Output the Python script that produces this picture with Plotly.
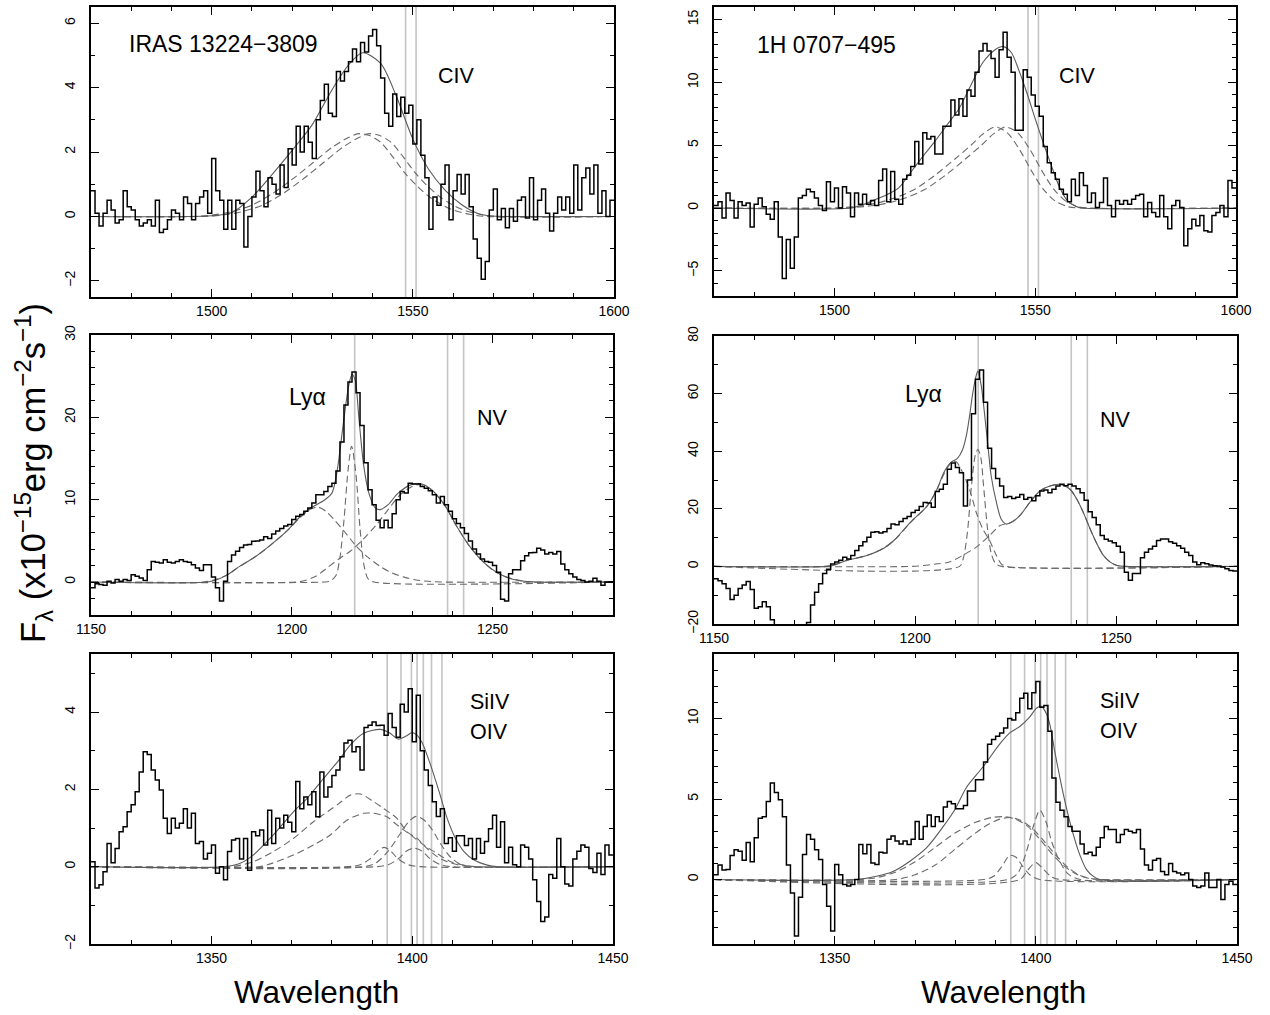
import plotly.graph_objects as go

# ---------------- spectra (1 A bins, first bin edge given) ----------------
TL_START = 1470
TL_FLUX = [0.8, 0.1, -0.3, 0.1, 0.5, 0.2, -0.2, -0.1, 0.8, 0.3,
           0.2, -0.1, -0.3, -0.2, -0.1, -0.3, 0.5, -0.5, -0.4, -0.1,
           0.2, 0.1, -0.1, 0.6, 0.4, -0.1, 0.4, 0.6, 0.8, 0.1,
           1.8, 0.8, 0.5, -0.4, 0.5, -0.4, 0.5, 0.4, -0.95, 0.0,
           0.6, 1.4, 0.8, 0.3, 1.2, 1.0, 0.7, 1.6, 0.9, 2.1,
           1.6, 2.8, 2.0, 2.8, 2.3, 1.8, 3.0, 3.6, 4.1, 3.2,
           3.1, 4.5, 4.2, 4.5, 4.8, 5.2, 4.8, 5.4, 5.1, 5.6,
           5.8, 5.3, 4.3, 3.2, 2.8, 3.8, 3.1, 3.7, 3.2, 3.45,
           2.25, 3.0, 1.9, 1.2, -0.4, 0.6, 0.35, 1.0, 1.6, -0.1,
           0.8, 1.3, 0.7, 1.3, 0.3, -0.7, -1.3, -1.95, -1.4, 0.2,
           0.85, -0.1, 0.25, -0.35, 0.25, -0.15, 0.5, 0.6, -0.05, 1.2,
           -0.1, 0.5, 0.85, 0.1, -0.45, 0.1, 0.6, 0.2, 0.6, 0.1,
           1.6, 0.2, 1.2, 1.5, 0.7, 1.6, 0.1, 0.8, 0.0, 0.5]

TR_START = 1470
TR_FLUX = [0.2, 0.5, -0.8, 1.2, 0.6, -0.8, 0.5, 0.2, 0.4, -1.5,
           0.3, 0.8, 0.1, -0.5, -0.9, 0.5, -2.3, -5.6, -2.5, -4.8,
           -2.3, 0.8, 1.0, 1.5, 1.3, 0.8, 0.2, -0.2, 2.1, 0.5,
           1.6, 0.0, 1.7, 1.2, -0.7, 1.2, 0.3, 1.1, 0.3, 0.6,
           0.2, 2.2, 3.1, 0.5, 2.9, 0.7, 0.3, 2.3, 2.6, 3.3,
           5.3, 3.5, 6.0, 5.5, 5.7, 4.3, 4.3, 6.5, 6.5, 8.6,
           7.4, 8.7, 7.3, 9.4, 8.9, 10.8, 12.5, 13.1, 12.5, 11.9,
           10.4, 12.6, 14.0, 12.0, 10.8, 6.2, 6.2, 11.0, 10.4, 9.0,
           8.1, 7.3, 4.9, 3.6, 2.8, 2.3, 1.5, 1.1, 0.5, 2.3,
           1.0, 2.8, 1.8, 0.45, 1.2, 0.05, 0.45, 2.4, 0.2, -0.7,
           0.6, 0.3, 0.6, 0.3, 0.7, 1.0, 1.1, -0.7, 0.45, -0.35,
           -0.7, 1.0, -0.7, -1.65, 0.2, 0.6, 0.05, -3.0, -1.65, -0.9,
           -1.4, -0.6, -1.8, -1.9, -0.6, -0.35, 0.2, -0.7, 2.2, 1.6]

ML_START = 1150
ML_FLUX = [-0.7, -0.2, -0.3, -0.4, 0.1, -0.1, 0.3, 0.1, 0.3, 0.2,
           0.9, 0.7, 0.5, 0.2, 1.5, 2.5, 2.4, 2.3, 2.7, 2.4,
           2.3, 2.5, 2.7, 2.5, 2.4, 2.1, 1.7, 1.4, 2.1, 2.1,
           0.6, -0.7, -2.3, 0.1, 2.5, 3.3, 3.75, 4.2, 4.5, 4.55,
           4.95, 5.0, 5.1, 5.5, 5.3, 5.85, 6.2, 6.5, 6.8, 7.0,
           7.6, 8.0, 8.2, 8.6, 9.0, 9.6, 10.6, 10.6, 11.0, 11.6,
           12.0, 13.5, 17.0, 21.5, 24.3, 25.5, 23.0, 19.0, 14.5, 11.2,
           9.4, 7.5, 6.6, 7.5, 6.6, 8.3, 10.0, 11.0, 10.8, 12.0,
           11.9, 11.9, 11.6, 11.4, 11.1, 10.6, 9.6, 10.4, 9.4, 8.6,
           7.7, 7.1, 6.6, 5.9, 5.0, 4.0, 3.4, 2.8, 2.5, 2.4,
           2.0, 1.2, -2.1, -2.3, 1.0, 1.5, 1.5, 2.6, 3.2, 3.55,
           3.6, 4.1, 3.9, 3.4, 3.6, 3.4, 3.7, 2.2, 1.5, 1.0,
           0.6, 0.3, 0.2, 0.0, 0.1, 0.45, 0.1, -0.4, 0.0, 0.05]

MR_START = 1150
MR_FLUX = [-4.3, -5.0, -6.0, -7.7, -11.5, -10.0, -7.7, -6.5, -5.2, -8.0,
           -14.5, -14.0, -12.3, -14.0, -18.5, -25, -32, -38, -40, -38,
           -34, -29, -25, -19.5, -13.4, -9.0, -6.0, -2.5, -1.0, 0.8,
           1.5, 2.1, 3.2, 2.6, 3.8, 5.5, 7.2, 8.6, 10.1, 11.9,
           12.0, 11.6, 12.0, 13.2, 14.7, 14.5, 15.6, 16.6, 17.3, 18.7,
           19.5, 20.8, 22.2, 22.0, 20.5, 26.0, 26.8, 28.5, 33.7, 35.9,
           34.3, 32.5, 21.0, 30.0, 53.0, 65.0, 68.2, 57.0, 41.0, 34.0,
           30.5, 27.9, 23.9, 24.3, 23.6, 24.0, 25.0, 23.3, 23.9, 22.8,
           24.5, 26.2, 26.5, 25.6, 26.8, 27.9, 28.5, 28.0, 28.5, 27.9,
           27.0, 25.6, 23.0, 19.0, 17.0, 14.5, 10.7, 9.4, 8.8, 8.2,
           7.0, 4.9, -2.0, -4.8, -2.5, -2.5, 3.0, 4.9, 6.0, 7.0,
           9.0, 9.5, 9.5, 8.6, 8.0, 7.2, 6.3, 4.9, 3.8, 1.5,
           0.6, 1.3, 0.9, 0.5, 0.2, 0.1, -0.2, -0.8, -1.4, -1.6]

BL_START = 1320
BL_FLUX = [0.13, -0.55, -0.47, -0.13, 0.6, 0.1, 0.47, 0.9, 1.03, 1.42,
           1.6, 1.94, 2.45, 2.97, 2.9, 2.5, 2.24, 1.98, 1.25, 0.86,
           1.25, 1.0, 1.12, 1.5, 1.0, 1.38, 0.6, 0.65, 0.2, 0.35,
           0.56, -0.17, 0.0, -0.34, 0.39, 0.69, 0.73, 0.2, 0.73, -0.09,
           0.9, 0.8, 0.95, 0.56, 1.46, 0.6, 1.25, 1.0, 1.33, 1.15,
           0.9, 2.2, 1.5, 1.8, 1.6, 1.94, 1.29, 2.45, 1.8, 2.06,
           2.36, 2.5, 2.84, 3.2, 3.27, 2.97, 3.1, 2.5, 3.6, 3.66,
           3.74, 3.65, 3.66, 3.4, 3.96, 3.6, 3.35, 4.2, 4.0, 4.6,
           3.23, 4.43, 3.0, 2.5, 2.1, 1.68, 1.3, 1.5, 0.6, 0.75,
           0.4, 0.8, 0.8, 0.55, 0.73, 0.2, 0.73, 0.35, 0.65, 0.98,
           1.33, 0.5, 1.16, 0.1, 0.5, 0.05, 0.0, 0.56, 0.5, 0.2,
           -0.34, -0.9, -1.42, -1.3, -0.2, -0.3, 0.73, 0.0, -0.45, -0.5,
           0.2, 0.4, 0.56, 0.5, -0.05, -0.15, 0.35, -0.2, 0.56, 0.3]

BR_START = 1320
BR_FLUX = [0.3, 0.9, 0.6, 0.62, 1.5, 1.85, 1.75, 1.2, 2.3, 1.1,
           2.6, 3.8, 3.9, 4.85, 6.0, 5.4, 4.95, 3.9, 0.9, -0.83,
           -3.5, -1.1, 1.55, 2.8, 2.5, 1.85, 1.24, -0.3, -1.65, -3.2,
           0.93, 0.3, -0.3, -0.4, -0.3, 0.0, 2.17, 1.6, 2.17, 1.03,
           0.93, 1.7, 1.65, 2.5, 2.7, 2.4, 2.2, 2.4, 2.17, 2.5,
           3.6, 2.5, 3.3, 4.0, 3.3, 3.9, 3.6, 4.5, 4.85, 4.7,
           4.4, 4.4, 4.6, 5.5, 5.5, 6.2, 6.2, 7.3, 8.4, 8.7,
           8.9, 9.1, 9.4, 10.0, 9.9, 10.35, 11.26, 11.57, 10.6, 11.6,
           12.3, 10.7, 10.8, 9.2, 6.3, 4.8, 4.3, 3.9, 3.3, 3.0,
           3.0, 2.2, 1.6, 1.7, 1.5, 2.0, 2.6, 3.3, 3.1, 3.1,
           2.3, 2.8, 3.1, 3.0, 2.9, 3.1, 1.9, 0.9, 0.6, 1.2,
           1.3, 0.5, 0.3, 1.0, 0.5, 0.4, 0.3, 0.4, 0.0, -0.4,
           -0.5, -0.4, 0.4, -0.5, -0.5, 0.0, -1.24, -0.3, -0.1, -0.3]

# ---------------- model fits (total) and components ----------------
TL_FIT_X = [1470, 1500, 1505, 1510, 1515, 1520, 1525, 1530, 1534, 1537.5, 1542, 1546, 1550, 1554, 1558, 1562, 1566, 1569, 1572, 1600]
TL_FIT_Y = [0, 0.02, 0.12, 0.6, 1.3, 2.05, 2.85, 3.95, 4.7, 5.08, 4.75, 3.7, 2.4, 1.45, 0.82, 0.38, 0.1, 0.02, 0, 0]
TL_C1_X = [1470, 1495, 1500, 1505, 1510, 1515, 1520, 1525, 1530, 1534, 1536.5, 1539, 1542, 1545, 1548, 1551, 1554, 1557, 1560, 1564, 1568, 1600]
TL_C1_Y = [0, 0, 0.04, 0.15, 0.35, 0.7, 1.15, 1.65, 2.15, 2.45, 2.57, 2.52, 2.3, 1.85, 1.35, 0.95, 0.62, 0.38, 0.2, 0.07, 0, 0]
TL_C2_X = [1470, 1497.6, 1502.6, 1507.6, 1512.6, 1517.6, 1522.6, 1527.6, 1532.6, 1536.6, 1539.1, 1541.6, 1544.6, 1547.6, 1550.6, 1553.6, 1556.6, 1559.6, 1562.6, 1566.6, 1570.6, 1600]
TL_C2_Y = [0, 0, 0.04, 0.15, 0.35, 0.7, 1.15, 1.65, 2.15, 2.45, 2.57, 2.52, 2.3, 1.85, 1.35, 0.95, 0.62, 0.38, 0.2, 0.07, 0, 0]

TR_FIT_X = [1470, 1504, 1507, 1510, 1513, 1516, 1519, 1522, 1525, 1528, 1531, 1534, 1537, 1540, 1542, 1544, 1546, 1548, 1550, 1552, 1554, 1556, 1558, 1560, 1562, 1600]
TR_FIT_Y = [0, 0, 0.25, 0.65, 1.05, 1.6, 2.85, 4.1, 5.3, 6.6, 7.9, 9.8, 11.6, 12.6, 12.85, 12.4, 10.9, 9.1, 7.1, 5.2, 3.4, 1.7, 0.6, 0.15, 0, 0]
TR_C1_X = [1470, 1500, 1505, 1510, 1515, 1520, 1525, 1530, 1534, 1537, 1540, 1543, 1546, 1549, 1552, 1555, 1558, 1561, 1600]
TR_C1_Y = [0, 0, 0.12, 0.35, 0.8, 1.5, 2.6, 3.9, 5.0, 5.9, 6.45, 6.0, 4.7, 3.0, 1.5, 0.55, 0.12, 0, 0]
TR_C2_X = [1470, 1502.6, 1507.6, 1512.6, 1517.6, 1522.6, 1527.6, 1532.6, 1536.6, 1539.6, 1542.6, 1545.6, 1548.6, 1551.6, 1554.6, 1557.6, 1560.6, 1563.6, 1600]
TR_C2_Y = [0, 0, 0.12, 0.35, 0.8, 1.5, 2.6, 3.9, 5.0, 5.9, 6.45, 6.0, 4.7, 3.0, 1.5, 0.55, 0.12, 0, 0]

ML_FIT_X = [1150, 1179, 1181.5, 1184, 1187, 1191, 1195, 1199, 1202, 1205, 1208, 1210, 1211.3, 1212.9, 1214.2, 1215, 1215.8, 1216.7, 1217.9, 1219.2, 1220.8, 1222, 1224, 1226.3, 1229.6, 1232, 1234.6, 1238, 1241.3, 1244.6, 1248, 1251.3, 1254.6, 1258, 1261, 1280]
ML_FIT_Y = [0, 0, 0.3, 0.9, 1.9, 3.1, 4.6, 6.3, 7.9, 9.1, 9.9, 10.8, 13.5, 19.5, 23.9, 25.2, 24.5, 20.0, 14.2, 10.8, 9.0, 8.8, 9.4, 10.7, 11.8, 11.95, 11.3, 9.4, 6.6, 4.15, 2.3, 1.1, 0.4, 0.1, 0, 0]
ML_C1_X = [1150, 1178, 1181, 1184, 1187, 1191, 1195, 1199, 1202, 1204.5, 1206.5, 1208.5, 1210.5, 1213, 1216, 1219, 1222, 1225, 1228, 1231, 1235, 1238, 1280]
ML_C1_Y = [0, 0, 0.3, 0.9, 1.9, 3.1, 4.6, 6.3, 7.8, 8.8, 9.1, 8.6, 7.6, 6.2, 4.4, 3.0, 1.9, 1.1, 0.6, 0.25, 0.05, 0, 0]
ML_C2_X = [1150, 1208, 1209.5, 1211, 1212, 1213, 1214, 1214.9, 1216, 1217, 1218, 1219, 1220.5, 1280]
ML_C2_Y = [0, 0, 0.1, 0.8, 3.0, 7.5, 13.5, 16.5, 13.0, 6.5, 2.0, 0.4, 0, 0]
ML_C3_X = [1150, 1201, 1203, 1206, 1209, 1212, 1215, 1218, 1221, 1224, 1227, 1230, 1232, 1234.5, 1238, 1241, 1244.5, 1248, 1251, 1254.5, 1258, 1261, 1280]
ML_C3_Y = [0, 0, 0.15, 0.7, 1.8, 2.9, 3.9, 5.3, 6.9, 8.8, 10.6, 11.6, 11.85, 11.3, 9.4, 6.8, 4.2, 2.3, 1.15, 0.45, 0.1, 0, 0]

MR_FIT_X = [1150, 1178, 1180, 1183, 1188, 1192.2, 1194.7, 1198.8, 1203, 1205.5, 1207.1, 1208.8, 1210.5, 1211.8, 1212.7, 1213.5, 1214.3, 1215.2, 1215.6, 1216.4, 1217.25, 1218.1, 1218.9, 1220.2, 1221.4, 1222.7, 1223.9, 1226, 1228.5, 1231, 1233.5, 1236, 1238.5, 1240.2, 1241.8, 1243.5, 1245.2, 1246.8, 1248.5, 1250.2, 1252, 1280]
MR_FIT_Y = [0, 0, 0.5, 2.1, 3.8, 6.3, 9.0, 15.3, 21.0, 27.0, 32.5, 36.0, 37.5, 40.6, 45.2, 52.0, 60.0, 66.4, 67.8, 63.0, 53.0, 41.7, 31.4, 22.2, 16.4, 14.7, 15.3, 17.6, 22.2, 26.2, 27.9, 28.5, 26.8, 23.3, 18.7, 13.0, 7.8, 3.8, 1.5, 0.3, 0, 0]
MR_C1_X = [1150, 1177, 1179, 1183, 1188, 1192, 1195, 1199, 1203, 1205.5, 1207.5, 1209, 1210.2, 1211.5, 1213.5, 1215.2, 1216.8, 1218.5, 1220.2, 1221.4, 1222.7, 1280]
MR_C1_Y = [0, 0, 0.3, 2.1, 3.8, 6.2, 9.3, 15.5, 21.0, 27.0, 33.0, 36.0, 36.3, 33.5, 26.8, 18.7, 13.0, 9.0, 3.8, 0.9, 0, 0]
MR_C2_X = [1150, 1211, 1212, 1213, 1214, 1215, 1215.6, 1216.3, 1217, 1218, 1219, 1220, 1221.5, 1280]
MR_C2_Y = [0, 0, 3.0, 12.0, 28.0, 39.0, 40.6, 38.0, 28.0, 13.0, 4.0, 1.0, 0, 0]
MR_C3_X = [1150, 1199, 1202, 1205.5, 1208.5, 1211.8, 1215.2, 1218.5, 1221, 1223.9, 1226, 1228.5, 1231, 1233.5, 1236, 1238.5, 1240.2, 1241.8, 1243.5, 1245.2, 1246.8, 1248.5, 1250.2, 1252, 1280]
MR_C3_Y = [0, 0, 0.3, 0.9, 1.5, 3.8, 6.7, 10.7, 14.1, 15.3, 17.6, 22.2, 26.2, 27.9, 28.5, 26.8, 23.3, 18.7, 13.0, 7.8, 3.8, 1.5, 0.3, 0, 0]

BL_FIT_X = [1320, 1353.5, 1357, 1360.4, 1365.4, 1370.4, 1373.75, 1377.9, 1381.7, 1384.6, 1387.9, 1392, 1394.5, 1396.5, 1398.5, 1400, 1401.2, 1402.5, 1404.6, 1406.7, 1408.7, 1410.8, 1412.9, 1415.4, 1418.7, 1421, 1450]
BL_FIT_Y = [0, 0, 0.08, 0.3, 0.82, 1.42, 1.76, 2.28, 2.75, 3.15, 3.45, 3.55, 3.45, 3.3, 3.38, 3.47, 3.4, 3.2, 2.62, 1.94, 1.25, 0.73, 0.39, 0.17, 0.04, 0, 0]
BL_C1_X = [1320, 1355, 1360.4, 1365.4, 1370.4, 1375.4, 1381.7, 1384.6, 1387.1, 1390.4, 1392.9, 1396.2, 1398.7, 1401.2, 1403.7, 1406.2, 1408.7, 1412.1, 1415, 1450]
BL_C1_Y = [0, 0, 0.13, 0.39, 0.73, 1.16, 1.63, 1.85, 1.88, 1.68, 1.5, 1.25, 0.9, 0.73, 0.47, 0.26, 0.13, 0.03, 0, 0]
BL_C2_X = [1320, 1362, 1363.75, 1370.4, 1375.4, 1379.6, 1383.7, 1387.9, 1390.4, 1393.7, 1396.2, 1399.6, 1402.9, 1406.2, 1409.6, 1412.9, 1416, 1450]
BL_C2_Y = [0, 0, 0.04, 0.3, 0.56, 0.82, 1.2, 1.38, 1.38, 1.29, 1.08, 0.82, 0.56, 0.34, 0.13, 0.04, 0, 0]
BL_C3_X = [1320, 1388, 1391, 1394, 1397, 1399, 1401, 1403, 1405, 1407, 1409.5, 1412, 1415, 1450]
BL_C3_Y = [0, 0, 0.1, 0.4, 0.85, 1.15, 1.3, 1.2, 0.95, 0.6, 0.25, 0.06, 0, 0]
BL_C4_X = [1320, 1384, 1387, 1389.5, 1391.5, 1393, 1394.5, 1396.5, 1399, 1402, 1450]
BL_C4_Y = [0, 0, 0.05, 0.2, 0.42, 0.5, 0.42, 0.2, 0.05, 0, 0]
BL_C5_X = [1320, 1391, 1394, 1396.5, 1398.5, 1400.5, 1402.5, 1404.5, 1407, 1410, 1450]
BL_C5_Y = [0, 0, 0.05, 0.2, 0.4, 0.48, 0.4, 0.2, 0.05, 0, 0]

BR_FIT_X = [1320, 1355.4, 1360.4, 1364.5, 1368.7, 1372.8, 1377, 1380, 1382.7, 1386.9, 1391, 1393.5, 1396, 1398.5, 1400.2, 1401.4, 1402.6, 1403.5, 1404.7, 1406, 1407.6, 1409.3, 1410.9, 1412.6, 1414.3, 1415.9, 1450]
BR_FIT_Y = [0, 0, 0.2, 0.5, 1.14, 1.96, 3.3, 4.4, 5.7, 7.0, 8.4, 9.1, 9.5, 10.1, 10.65, 10.75, 10.3, 9.6, 7.95, 6.3, 4.45, 2.8, 1.55, 0.62, 0.2, 0, 0]
BR_C1_X = [1320, 1355, 1360, 1365, 1370, 1375, 1380, 1385, 1389, 1392, 1395, 1398, 1401, 1404, 1407, 1410, 1413, 1416, 1450]
BR_C1_Y = [0, 0, 0.1, 0.45, 1.1, 2.0, 2.9, 3.55, 3.85, 3.9, 3.75, 3.3, 2.5, 1.6, 0.85, 0.35, 0.08, 0, 0]
BR_C2_X = [1320, 1365, 1370, 1375, 1380, 1384, 1388, 1391, 1393.5, 1396, 1399, 1402, 1405, 1408, 1411, 1414, 1417, 1450]
BR_C2_Y = [0, 0, 0.3, 0.9, 1.9, 2.7, 3.4, 3.75, 3.85, 3.7, 3.2, 2.4, 1.5, 0.75, 0.25, 0.05, 0, 0]
BR_C3_X = [1320, 1387, 1389.5, 1391.5, 1393.5, 1395, 1396.5, 1398.5, 1401, 1450]
BR_C3_Y = [0, 0, 0.2, 0.8, 1.5, 1.4, 0.9, 0.3, 0, 0]
BR_C4_X = [1320, 1393, 1395.5, 1397.5, 1399.5, 1401, 1402.5, 1404, 1406, 1408, 1411, 1450]
BR_C4_Y = [0, 0, 0.4, 1.6, 3.4, 4.3, 3.6, 2.3, 1.1, 0.35, 0, 0]
BR_C5_X = [1320, 1396, 1398, 1400, 1402, 1404, 1406, 1450]
BR_C5_Y = [0, 0, 0.6, 1.05, 0.6, 0.15, 0, 0]

# rest wavelengths of the marked transitions
CIV_LINES = [1548.2, 1550.8]
LYA_NV_LINES = [1215.67, 1238.8, 1242.8]
SIIV_OIV_LINES = [1393.76, 1397.2, 1399.8, 1401.2, 1402.77, 1404.8, 1407.4]

# ---------------- layout geometry (pixels) ----------------
W, H = 1270, 1015
FONT = "Liberation Sans, Arial, Helvetica, sans-serif"


def px_x(x):
    return min(max(x / W, 0.0), 1.0)


def px_y(y):
    return min(max(1 - y / H, 0.0), 1.0)


panels = [
    dict(box=(91, 614, 7, 297), xr=(1470, 1600), yr=(-2.5, 6.5), ydt=2, ymn=1,
         start=TL_START, flux=TL_FLUX, fit=(TL_FIT_X, TL_FIT_Y),
         comps=[(TL_C1_X, TL_C1_Y), (TL_C2_X, TL_C2_Y)], lines=CIV_LINES),
    dict(box=(714, 1236, 7, 296), xr=(1470, 1600), yr=(-7, 16), ydt=5, ymn=1,
         start=TR_START, flux=TR_FLUX, fit=(TR_FIT_X, TR_FIT_Y),
         comps=[(TR_C1_X, TR_C1_Y), (TR_C2_X, TR_C2_Y)], lines=CIV_LINES),
    dict(box=(91, 613, 335, 615), xr=(1150, 1280), yr=(-4, 30), ydt=10, ymn=2,
         start=ML_START, flux=ML_FLUX, fit=(ML_FIT_X, ML_FIT_Y),
         comps=[(ML_C1_X, ML_C1_Y), (ML_C2_X, ML_C2_Y), (ML_C3_X, ML_C3_Y)], lines=LYA_NV_LINES),
    dict(box=(714, 1237, 336, 624), xr=(1150, 1280), yr=(-20, 80), ydt=20, ymn=10,
         start=MR_START, flux=MR_FLUX, fit=(MR_FIT_X, MR_FIT_Y),
         comps=[(MR_C1_X, MR_C1_Y), (MR_C2_X, MR_C2_Y), (MR_C3_X, MR_C3_Y)], lines=LYA_NV_LINES),
    dict(box=(91, 613, 654, 944), xr=(1320, 1450), yr=(-2, 5.5), ydt=2, ymn=1,
         start=BL_START, flux=BL_FLUX, fit=(BL_FIT_X, BL_FIT_Y),
         comps=[(BL_C1_X, BL_C1_Y), (BL_C2_X, BL_C2_Y), (BL_C3_X, BL_C3_Y),
                (BL_C4_X, BL_C4_Y), (BL_C5_X, BL_C5_Y)], lines=SIIV_OIV_LINES),
    dict(box=(714, 1237, 654, 944), xr=(1320, 1450), yr=(-4, 14), ydt=5, ymn=1,
         start=BR_START, flux=BR_FLUX, fit=(BR_FIT_X, BR_FIT_Y),
         comps=[(BR_C1_X, BR_C1_Y), (BR_C2_X, BR_C2_Y), (BR_C3_X, BR_C3_Y),
                (BR_C4_X, BR_C4_Y), (BR_C5_X, BR_C5_Y)], lines=SIIV_OIV_LINES),
]

# text labels: (panel index, x, y, text, font size)
LABELS = [
    (0, 1479.0, 5.35, "IRAS 13224\u22123809", 23),
    (0, 1555.7, 4.36, "CIV", 21.5),
    (1, 1480.1, 13.0, "1H 0707\u2212495", 23),
    (1, 1555.5, 10.47, "CIV", 21.5),
    (2, 1198.8, 22.5, "Ly\u03b1", 23),
    (2, 1245.6, 19.9, "NV", 21.5),
    (3, 1197.1, 60.0, "Ly\u03b1", 23),
    (3, 1245.4, 50.7, "NV", 21.5),
    (4, 1413.8, 4.26, "SiIV", 21.5),
    (4, 1413.8, 3.49, "OIV", 21.5),
    (5, 1415.4, 11.07, "SiIV", 21.5),
    (5, 1415.4, 9.2, "OIV", 21.5),
]

fig = go.Figure()
shapes = []
annotations = []

for i, p in enumerate(panels):
    n = i + 1
    xa = "x" if n == 1 else f"x{n}"
    ya = "y" if n == 1 else f"y{n}"
    x0, x1, y0, y1 = p["box"]

    # rest-wavelength markers
    for lam in p["lines"]:
        shapes.append(dict(type="line", xref=xa, yref=f"{ya} domain", x0=lam, x1=lam, y0=0, y1=1,
                           line=dict(color="#c4c4c4", width=1.6), layer="below"))

    # model components
    for cx, cy in p["comps"]:
        fig.add_trace(go.Scatter(x=cx, y=cy, xaxis=xa, yaxis=ya, mode="lines",
                                 line=dict(color="#6a6a6a", width=1.1, dash="7px,4px",
                                           shape="spline", smoothing=0.8),
                                 hoverinfo="skip", showlegend=False))
    # total fit
    fx, fy = p["fit"]
    fig.add_trace(go.Scatter(x=fx, y=fy, xaxis=xa, yaxis=ya, mode="lines",
                             line=dict(color="#5a5a5a", width=1.1, shape="spline", smoothing=0.8),
                             hoverinfo="skip", showlegend=False))
    # observed spectrum as a histogram-style step line
    edges = [p["start"] + k for k in range(len(p["flux"]) + 1)]
    vals = list(p["flux"]) + [p["flux"][-1]]
    fig.add_trace(go.Scatter(x=edges, y=vals, xaxis=xa, yaxis=ya, mode="lines",
                             line=dict(color="black", width=1.5, shape="hv"),
                             hoverinfo="skip", showlegend=False))

    common = dict(showgrid=False, zeroline=False, showline=True, linecolor="black", linewidth=1.5,
                  mirror="allticks", ticks="inside", ticklen=8, tickwidth=1.1, tickcolor="black",
                  automargin=False, tickfont=dict(family=FONT, size=14, color="black"))
    fig.layout[f"xaxis{'' if n == 1 else n}"] = dict(
        domain=[px_x(x0), px_x(x1)], range=list(p["xr"]), anchor=ya, dtick=50, tick0=0,
        minor=dict(dtick=10, ticks="inside", ticklen=4, tickcolor="black", tickwidth=1.1),
        **common)
    fig.layout[f"yaxis{'' if n == 1 else n}"] = dict(
        domain=[px_y(y1), px_y(y0)], range=list(p["yr"]), anchor=xa, dtick=p["ydt"], tick0=0,
        tickangle=-90, ticklabelstandoff=9,
        minor=dict(dtick=p["ymn"], ticks="inside", ticklen=4, tickcolor="black", tickwidth=1.1),
        **common)

for pi, lx, ly, txt, fs in LABELS:
    n = pi + 1
    annotations.append(dict(x=lx, y=ly, xref="x" if n == 1 else f"x{n}", yref="y" if n == 1 else f"y{n}",
                            text=txt, showarrow=False, xanchor="left", yanchor="middle",
                            font=dict(family=FONT, size=fs, color="black")))

# axis titles
for cx in (316, 1003):
    annotations.append(dict(x=px_x(cx), y=px_y(992), xref="paper", yref="paper", text="Wavelength",
                            showarrow=False, xanchor="center", yanchor="middle",
                            font=dict(family=FONT, size=31.5, color="black")))
annotations.append(dict(x=px_x(33), y=px_y(473), xref="paper", yref="paper",
                        text="F<sub>\u03bb</sub> (x10<sup>\u221215</sup>erg cm<sup>\u22122</sup>s<sup>\u22121</sup>)",
                        textangle=-90, showarrow=False, xanchor="center", yanchor="middle",
                        font=dict(family=FONT, size=34.5, color="black")))

fig.update_layout(width=W, height=H,
                  margin=dict(l=0, r=0, t=0, b=0, pad=0, autoexpand=False),
                  paper_bgcolor="white", plot_bgcolor="white",
                  shapes=shapes, annotations=annotations, showlegend=False)

fig.write_html("out.html")
